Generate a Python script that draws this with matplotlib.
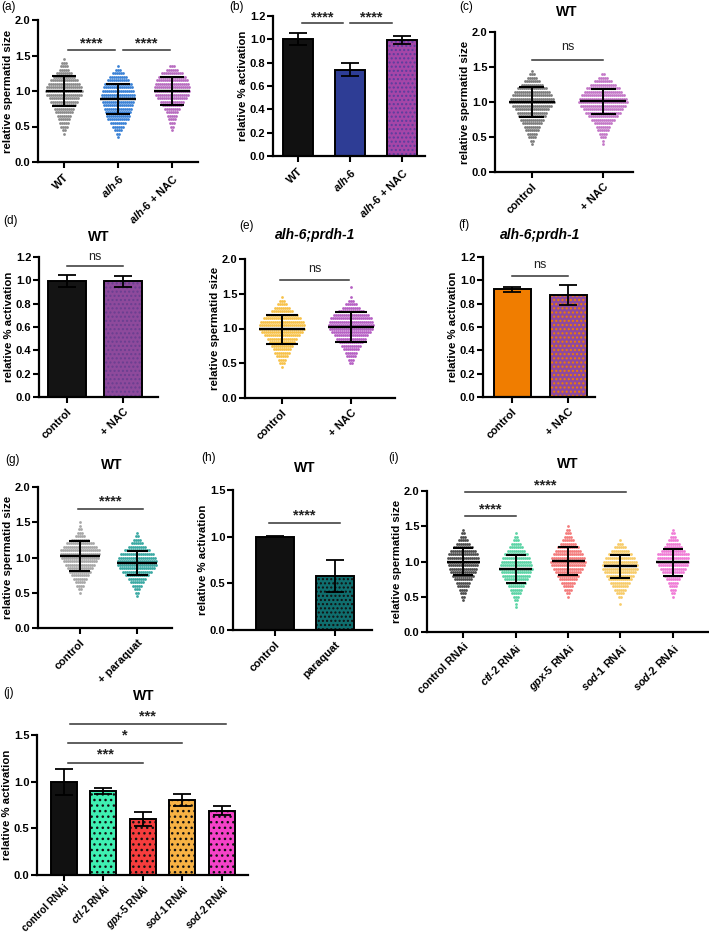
import numpy as np
import matplotlib
matplotlib.use('Agg')
import matplotlib.pyplot as plt

plt.rcParams['font.family'] = ['Liberation Sans', 'DejaVu Sans']
plt.rcParams['mathtext.fontset'] = 'custom'
plt.rcParams['mathtext.rm'] = 'Liberation Sans:bold'
plt.rcParams['mathtext.it'] = 'Liberation Sans:italic:bold'
plt.rcParams['mathtext.bf'] = 'Liberation Sans:bold'
plt.rcParams['hatch.linewidth'] = 1.0

W, H = 709, 933

# ---------------- data ----------------
size_bins = [0.35, 0.40, 0.45, 0.50, 0.55, 0.60, 0.65, 0.70, 0.75, 0.80, 0.85, 0.90, 0.95,
             1.00, 1.05, 1.10, 1.15, 1.20, 1.25, 1.30, 1.35, 1.40, 1.45, 1.50, 1.55, 1.60]

# (a) spermatid size, counts per bin
a_labels = ['WT', r'$\mathit{alh}$-$\mathit{6}$', r'$\mathit{alh}$-$\mathit{6}$ + NAC']
a_wt = [0, 1, 2, 4, 5, 6, 7, 9, 10, 12, 14, 15, 18, 19, 18, 16, 14, 11, 8, 5, 4, 3, 1, 0, 0, 0]
a_alh6 = [1, 2, 4, 6, 8, 11, 12, 13, 14, 15, 16, 17, 17, 16, 15, 14, 11, 9, 6, 3, 1, 0, 0, 0, 0, 0]
a_nac = [0, 0, 1, 2, 3, 4, 5, 6, 8, 10, 12, 15, 17, 18, 18, 17, 16, 14, 11, 6, 3, 0, 0, 0, 0, 0]
a_means = [1.00, 0.885, 1.00]
a_sds = [0.21, 0.21, 0.20]

# (b) activation
b_labels = a_labels
b_vals = [1.00, 0.74, 0.995]
b_errs = [0.052, 0.058, 0.032]

# (c) WT +/- NAC size
c_labels = ['control', '+ NAC']
c_ctrl = [0, 1, 2, 4, 5, 7, 8, 10, 12, 14, 15, 17, 20, 23, 22, 20, 18, 15, 11, 8, 5, 3, 1, 0, 0, 0]
c_nac = [0, 1, 1, 3, 4, 6, 7, 9, 12, 15, 18, 20, 23, 25, 24, 22, 19, 17, 13, 9, 5, 2, 0, 0, 0, 0]
c_means = [1.00, 1.01]
c_sds = [0.21, 0.18]

# (d) WT activation
d_labels = ['control', '+ NAC']
d_vals = [0.997, 0.992]
d_errs = [0.05, 0.046]

# (e) alh-6;prdh-1 size
e_labels = ['control', '+ NAC']
e_ctrl = [0, 0, 1, 3, 4, 6, 8, 9, 11, 13, 15, 18, 21, 23, 23, 22, 19, 16, 11, 8, 5, 3, 1, 0, 0, 0]
e_nac = [0, 0, 0, 2, 3, 5, 6, 8, 10, 12, 15, 17, 20, 22, 23, 22, 21, 18, 13, 9, 6, 3, 1, 0, 0, 1]
e_means = [0.99, 1.02]
e_sds = [0.21, 0.215]

# (f) alh-6;prdh-1 activation
f_labels = ['control', '+ NAC']
f_vals = [0.922, 0.876]
f_errs = [0.022, 0.088]

# (g) paraquat size
g_labels = ['control', '+ paraquat']
g_ctrl = [0, 0, 0, 1, 2, 4, 5, 7, 9, 11, 13, 15, 17, 19, 20, 20, 17, 14, 9, 5, 3, 2, 1, 1, 0, 0]
g_pq = [0, 0, 1, 2, 3, 5, 7, 9, 12, 15, 18, 20, 20, 19, 17, 13, 9, 6, 4, 2, 1, 0, 0, 0, 0, 0]
g_means = [1.025, 0.92]
g_sds = [0.21, 0.172]

# (h) paraquat activation
h_labels = ['control', 'paraquat']
h_vals = [1.00, 0.582]
h_errs = [0.006, 0.17]

# (i) RNAi size
rnai_labels = ['control RNAi', r'$\mathit{ctl}$-$\mathit{2}$ RNAi', r'$\mathit{gpx}$-$\mathit{5}$ RNAi',
               r'$\mathit{sod}$-$\mathit{1}$ RNAi', r'$\mathit{sod}$-$\mathit{2}$ RNAi']
i_ctrl = [0, 0, 1, 2, 3, 4, 6, 7, 9, 11, 13, 14, 15, 16, 16, 15, 13, 10, 7, 5, 3, 2, 1, 0, 0, 0]
i_ctl2 = [1, 1, 2, 3, 5, 6, 8, 10, 12, 14, 15, 17, 16, 15, 14, 12, 9, 7, 5, 3, 2, 1, 0, 0, 0, 0]
i_gpx5 = [0, 0, 0, 1, 2, 4, 5, 7, 9, 11, 13, 15, 17, 18, 17, 15, 13, 11, 8, 6, 4, 3, 2, 1, 0, 0]
i_sod1 = [0, 1, 0, 2, 4, 6, 8, 10, 12, 14, 16, 18, 18, 17, 15, 12, 9, 6, 3, 1, 0, 0, 0, 0, 0, 0]
i_sod2 = [0, 0, 0, 1, 2, 3, 4, 5, 7, 9, 11, 13, 15, 16, 16, 16, 12, 9, 7, 5, 3, 2, 1, 0, 0, 0]
i_means = [1.00, 0.895, 1.01, 0.93, 0.99]
i_sds = [0.195, 0.20, 0.20, 0.165, 0.19]

# (j) RNAi activation
j_vals = [1.00, 0.90, 0.598, 0.805, 0.69]
j_errs = [0.14, 0.036, 0.072, 0.066, 0.05]

# ---------------- helpers ----------------
fig = plt.figure(figsize=(W / 100, H / 100), dpi=100)


def add_ax(left, top, right, bottom):
    return fig.add_axes([left / W, 1 - bottom / H, (right - left) / W, (bottom - top) / H])


def style(ax, xlabels, xlim, ylim, yticks, ylabel, xfs=8, xpad=3):
    for s in ['top', 'right']:
        ax.spines[s].set_visible(False)
    for s in ['left', 'bottom']:
        ax.spines[s].set_linewidth(1.6)
    ax.set_xlim(xlim)
    ax.set_ylim(ylim)
    ax.set_yticks(yticks)
    ax.set_yticklabels([f'{v:.1f}' for v in yticks], fontweight='bold', fontsize=8)
    ax.set_xticks(range(len(xlabels)))
    ax.set_xticklabels(xlabels, rotation=45, ha='right', rotation_mode='anchor',
                       fontweight='bold', fontsize=xfs)
    ax.tick_params(width=1.5, length=4, direction='out', pad=1.5)
    ax.tick_params(axis='x', pad=xpad)
    ax.set_ylabel(ylabel, fontweight='bold', fontsize=8.2, labelpad=1.5)


def ppu(ax):
    xl = ax.get_xlim()
    return ax.get_window_extent().width / (xl[1] - xl[0])


def swarm(ax, pos, counts, color, dot_px=2.0):
    dx = dot_px / ppu(ax)
    xs, ys = [], []
    for y, n in zip(size_bins, counts):
        offs = (np.arange(n) - (n - 1) / 2) * dx
        xs.extend(pos + offs)
        ys.extend([y] * n)
    ax.scatter(xs, ys, s=4.0, color=color, marker='o', linewidths=0, zorder=2)


def mean_sd(ax, pos, mean, sd, mean_half_px, sd_half_px):
    p = ppu(ax)
    mh, sh = mean_half_px / p, sd_half_px / p
    kw = dict(color='black', solid_capstyle='butt', zorder=4)
    ax.plot([pos - mh, pos + mh], [mean, mean], lw=1.7, **kw)
    ax.plot([pos, pos], [mean - sd, mean + sd], lw=1.4, **kw)
    ax.plot([pos - sh, pos + sh], [mean + sd] * 2, lw=1.5, **kw)
    ax.plot([pos - sh, pos + sh], [mean - sd] * 2, lw=1.5, **kw)


def bars(ax, vals, errs, faces, hcolors, hatches, width, capsize=6.5):
    for i, (v, fc, hc, ht) in enumerate(zip(vals, faces, hcolors, hatches)):
        ax.bar(i, v, width, color=fc, edgecolor=hc, hatch=ht, linewidth=0, zorder=2)
        ax.bar(i, v, width, fill=False, edgecolor='black', linewidth=1.4, zorder=3)
    ax.errorbar(range(len(vals)), vals, yerr=errs, fmt='none', ecolor='black',
                elinewidth=1.3, capsize=capsize, capthick=1.3, zorder=4)


def sig(ax, x1, x2, y, text, ty, bold=True, size=10.5):
    ax.plot([x1, x2], [y, y], color='#333333', lw=1.1, clip_on=False)
    ax.text((x1 + x2) / 2, ty, text, ha='center', va='center', fontsize=size,
            fontweight='bold' if bold else 'normal', clip_on=False, color='#222222')


def ftext(x, y, s, **kw):
    fig.text(x / W, 1 - y / H, s, ha='center', va='center', **kw)


YS = 'relative spermatid size'
YA = 'relative % activation'
size_ticks = [0.0, 0.5, 1.0, 1.5, 2.0]
act_ticks = [0.0, 0.2, 0.4, 0.6, 0.8, 1.0, 1.2]
act_ticks2 = [0.0, 0.5, 1.0, 1.5]

# ---------------- (a) ----------------
ax = add_ax(38, 20, 198, 162)
style(ax, a_labels, (-0.48, 2.48), (0, 2.0), size_ticks, YS)
for k, (cnt, col) in enumerate(zip([a_wt, a_alh6, a_nac], ['#8c8c8c', '#3b82d6', '#b86cc0'])):
    swarm(ax, k, cnt, col)
    mean_sd(ax, k, a_means[k], a_sds[k], 18, 12)
sig(ax, 0.07, 0.94, 1.577, '****', 1.665)
sig(ax, 1.09, 1.96, 1.577, '****', 1.665)

# ---------------- (b) ----------------
ax = add_ax(273, 16, 425, 156)
style(ax, b_labels, (-0.48, 2.44), (0, 1.2), act_ticks, YA)
bars(ax, b_vals, b_errs, ['#111111', '#2e3d95', '#a546a8'], ['#111111', '#2e3d95', '#5b3e9e'],
     [None, None, '....'], 0.58)
sig(ax, 0.08, 0.87, 1.137, '****', 1.19)
sig(ax, 1.0, 1.81, 1.137, '****', 1.19)

# ---------------- (c) ----------------
ax = add_ax(495, 32, 633, 172)
style(ax, c_labels, (-0.52, 1.42), (0, 2.0), size_ticks, YS)
for k, (cnt, col) in enumerate(zip([c_ctrl, c_nac], ['#7d7d7d', '#c478c8'])):
    swarm(ax, k, cnt, col)
    mean_sd(ax, k, c_means[k], c_sds[k], 23, 12.5)
sig(ax, 0.0, 1.0, 1.60, 'ns', 1.78, bold=False, size=9)

# ---------------- (d) ----------------
ax = add_ax(39, 257, 158, 397)
style(ax, d_labels, (-0.5, 1.62), (0, 1.2), act_ticks, YA)
bars(ax, d_vals, d_errs, ['#141414', '#8e4a9c'], ['#141414', '#6a3f90'], [None, '....'], 0.68)
sig(ax, 0.0, 1.0, 1.12, 'ns', 1.2, bold=False, size=9)

# ---------------- (e) ----------------
ax = add_ax(245, 259, 395, 398)
style(ax, e_labels, (-0.54, 1.64), (0, 2.0), size_ticks, YS)
for k, (cnt, col) in enumerate(zip([e_ctrl, e_nac], ['#f7c24a', '#b660c4'])):
    swarm(ax, k, cnt, col)
    mean_sd(ax, k, e_means[k], e_sds[k], 23, 16)
sig(ax, -0.03, 0.97, 1.70, 'ns', 1.86, bold=False, size=9)

# ---------------- (f) ----------------
ax = add_ax(483, 257, 595, 397)
style(ax, f_labels, (-0.52, 1.48), (0, 1.2), act_ticks, YA)
bars(ax, f_vals, f_errs, ['#f07d00', '#8e4aa0'], ['#f07d00', '#f07d00'], [None, '....'], 0.66)
sig(ax, 0.0, 1.0, 1.04, 'ns', 1.135, bold=False, size=9)

# ---------------- (g) ----------------
ax = add_ax(38, 487, 172, 628)
style(ax, g_labels, (-0.72, 1.6), (0, 2.0), size_ticks, YS)
for k, (cnt, col) in enumerate(zip([g_ctrl, g_pq], ['#a8a8a8', '#3aa9a3'])):
    swarm(ax, k, cnt, col)
    mean_sd(ax, k, g_means[k], g_sds[k], 20, 10.5)
sig(ax, -0.03, 1.1, 1.69, '****', 1.79)

# ---------------- (h) ----------------
ax = add_ax(233, 490, 372, 630)
style(ax, h_labels, (-0.7, 1.62), (0, 1.5), act_ticks2, YA)
bars(ax, h_vals, h_errs, ['#111111', '#0f6e6e'], ['#111111', '#111111'], [None, '....'], 0.64)
sig(ax, -0.1, 1.08, 1.15, '****', 1.23)

# ---------------- (i) ----------------
ax = add_ax(427, 491, 708, 632)
style(ax, rnai_labels, (-0.69, 4.67), (0, 2.0), size_ticks, YS, xfs=7.8)
for k, (cnt, col) in enumerate(zip([i_ctrl, i_ctl2, i_gpx5, i_sod1, i_sod2],
                                   ['#4d4d4d', '#5cd4a6', '#f47c7c', '#f7cc6a', '#f07cd6'])):
    swarm(ax, k, cnt, col)
    mean_sd(ax, k, i_means[k], i_sds[k], 16.5, 10)
sig(ax, 0.03, 1.0, 1.646, '****', 1.735)
sig(ax, 0.03, 3.1, 1.99, '****', 2.085)

# ---------------- (j) ----------------
ax = add_ax(37, 735, 248, 875)
style(ax, rnai_labels, (-0.68, 4.66), (0, 1.5), act_ticks2, YA, xfs=7.3, xpad=1.5)
bars(ax, j_vals, j_errs, ['#111111', '#3ff0b2', '#f53d3d', '#f7b244', '#f542c8'],
     ['#111111', '#111111', '#111111', '#111111', '#111111'],
     [None, '...', '...', '...', '...'], 0.66)
sig(ax, 0.1, 2.0, 1.204, '***', 1.29)
sig(ax, 0.1, 3.0, 1.41, '*', 1.495)
sig(ax, 0.15, 4.1, 1.614, '***', 1.70)

# ---------------- titles & panel letters ----------------
tkw = dict(fontsize=10, fontweight='bold')
ftext(567, 12, 'WT', **tkw)
ftext(99, 237, 'WT', **tkw)
ftext(315, 235, 'alh-6;prdh-1', fontstyle='italic', **tkw)
ftext(540, 235, 'alh-6;prdh-1', fontstyle='italic', **tkw)
ftext(112, 465, 'WT', **tkw)
ftext(305, 468, 'WT', **tkw)
ftext(568, 464, 'WT', **tkw)
ftext(144, 696, 'WT', **tkw)

lkw = dict(fontsize=8.5)
for (x, y, s) in [(9, 7, '(a)'), (237, 7, '(b)'), (466, 7, '(c)'), (11, 221, '(d)'),
                  (247, 226, '(e)'), (464, 225, '(f)'), (12, 460, '(g)'), (209, 458, '(h)'),
                  (394, 458, '(i)'), (9, 693, '(j)')]:
    ftext(x, y, s, **lkw)

fig.savefig('out.png', dpi=100)
